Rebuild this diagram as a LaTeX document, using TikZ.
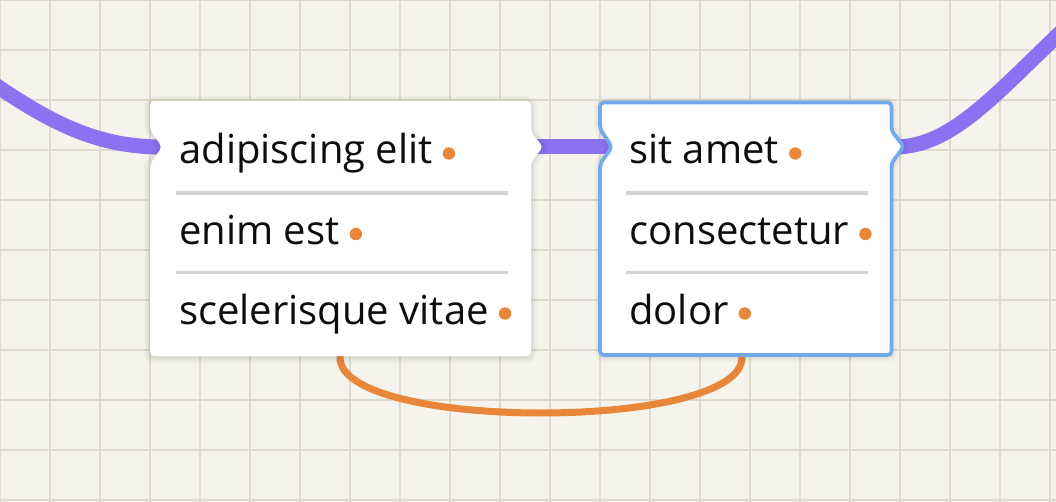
\documentclass[tikz,border=0pt]{standalone}
\usepackage{fontspec}
\setmainfont{Open Sans}
\usetikzlibrary{calc}
\definecolor{bg}{HTML}{F4F4EC}
\definecolor{gridc}{HTML}{DDDCCC}
\definecolor{purp}{HTML}{8B72F1}
\definecolor{orng}{HTML}{E8873A}
\definecolor{bluec}{HTML}{72A9EA}
\definecolor{sepc}{HTML}{D4D4D4}
\tikzset{
  gridline/.style={gridc, line width=1.5pt},
  purpline/.style={purp, line width=11.25pt},
  orline/.style={orng, line width=5.25pt},
  sepline/.style={sepc, line width=2.8pt},
  lbl/.style={font=\fontsize{30}{36}\selectfont, text=black!95, inner sep=0pt, anchor=base west},
  dotc/.style={fill=orng},
  boxshape/.style={rounded corners=3pt},
}
\begin{document}
\begin{tikzpicture}[x=0.75pt,y=-0.75pt]
\useasboundingbox (0,0) rectangle (1056,502);
\fill[bg] (0,0) rectangle (1056,502);
\foreach \x in {0,50,...,1050} \draw[gridline] (\x,-5) -- (\x,507);
\foreach \y in {0,50,...,500} \draw[gridline] (-5,\y) -- (1061,\y);

% connector end points
\coordinate (lstart) at (-40,60);
\coordinate (b1in) at (162,147);
\coordinate (b1out) at (534,147);
\coordinate (b2in) at (612,147);
\coordinate (b2out) at (896,147);
\coordinate (rend) at (1062,31);
\coordinate (o1) at (340,340);
\coordinate (o2) at (742,340);

% connectors
\draw[purpline] (lstart) .. controls (40,118) and (90,147) .. (b1in);
\draw[purpline] (b1out) -- (b2in);
\draw[purpline] (b2out) .. controls (950,146) and (990,100) .. (rend);
\draw[orline] (o1) -- (340,356) .. controls (335,432) and (747,432) .. (742,356) -- (o2);

% shadows
\foreach \w/\o in {9/0.025,6/0.03,3/0.04}{
  \draw[boxshape, black, opacity=\o, line width=\w pt]
    (150,102) -- (531,102) -- (531,132) -- (543,147) -- (531,162) -- (531,357) -- (150,357) -- (150,164) -- (162,147) -- (150,130) -- cycle;
  \draw[boxshape, black, opacity=\o, line width=\w pt]
    (600,103) -- (891.5,103) -- (891.5,131) -- (904,146.5) -- (891.5,163) -- (891.5,356) -- (600,356) -- (600,164) -- (612,147) -- (600,129) -- cycle;
}
% box 1
\fill[boxshape, white] (150,101) -- (531,101) -- (531,132) -- (543,147) -- (531,162) -- (531,356) -- (150,356) -- (150,164) -- (162,147) -- (150,130) -- cycle;
% box 2
\filldraw[boxshape, fill=white, draw=bluec, line width=2.8pt] (600,102.5) -- (891.5,102.5) -- (891.5,131) -- (904,146.5) -- (891.5,163) -- (891.5,355) -- (600,355) -- (600,164) -- (612,147) -- (600,129) -- cycle;

% separators
\draw[sepline] (176,193) -- (508,193);
\draw[sepline] (176,272.5) -- (508,272.5);
\draw[sepline] (626,193) -- (868,193);
\draw[sepline] (626,272.5) -- (868,272.5);

% labels
\node[lbl] (a1) at (179,164) {adipiscing elit};
\node[lbl] (a2) at (179,244.5) {enim est};
\node[lbl] (a3) at (179,324) {scelerisque vitae};
\node[lbl] (b1) at (629,164) {sit amet};
\node[lbl] (b2) at (629,244.5) {consectetur};
\node[lbl] (b3) at (629,324) {dolor};
\foreach \n in {a1,a2,a3,b1,b2,b3}
  \fill[dotc] ($(\n.base east)+(16,-10.5)$) circle (6.2);
\end{tikzpicture}
\end{document}
